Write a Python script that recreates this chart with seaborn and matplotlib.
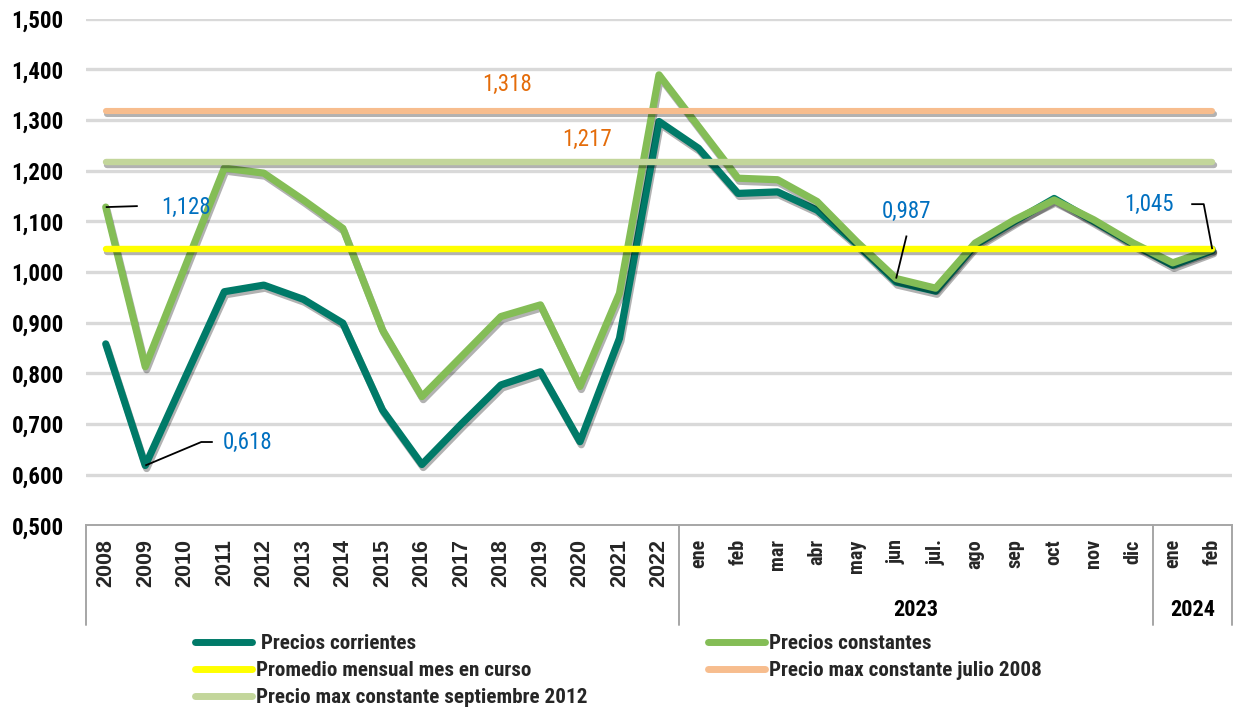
import numpy as np
import pandas as pd
import matplotlib
matplotlib.use("Agg")
import matplotlib.pyplot as plt
import matplotlib.patheffects as pe
from matplotlib import font_manager as fm
from matplotlib.lines import Line2D
import seaborn as sns

# ---------------- data ----------------
years = [str(y) for y in range(2008, 2023)]
months_2023 = ["ene", "feb", "mar", "abr", "may", "jun", "jul.", "ago", "sep", "oct", "nov", "dic"]
months_2024 = ["ene", "feb"]
group_labels = ["2023", "2024"]
tick_labels = years + months_2023 + months_2024

precios_corrientes = [0.858, 0.618, 0.790, 0.961, 0.974, 0.946, 0.899, 0.728, 0.620, 0.700,
                      0.777, 0.803, 0.665, 0.869, 1.297,
                      1.244, 1.155, 1.158, 1.122, 1.055, 0.980, 0.962, 1.053, 1.100, 1.145,
                      1.100, 1.055, 1.013, 1.042]
precios_constantes = [1.128, 0.813, 1.009, 1.205, 1.195, 1.142, 1.086, 0.886, 0.754, 0.833,
                      0.912, 0.935, 0.774, 0.958, 1.389,
                      1.287, 1.185, 1.182, 1.139, 1.060, 0.987, 0.968, 1.057, 1.103, 1.142,
                      1.103, 1.057, 1.018, 1.045]
promedio_mensual = 1.045
max_julio_2008 = 1.318
max_sept_2012 = 1.217

yticks = [0.5, 0.6, 0.7, 0.8, 0.9, 1.0, 1.1, 1.2, 1.3, 1.4, 1.5]

series_names = ["Precios corrientes", "Precios constantes", "Promedio mensual mes en curso",
                "Precio max constante julio 2008", "Precio max constante septiembre 2012"]
colors = ["#007A68", "#84BD56", "#FFFF00", "#F7BD8E", "#C3D69B"]

# ---------------- fonts ----------------
def pick(fams):
    for f in fams:
        try:
            fm.findfont(fm.FontProperties(family=f), fallback_to_default=False)
            return f
        except Exception:
            continue
    return "DejaVu Sans"

cond = pick(["Roboto Condensed", "Liberation Sans Narrow", "Roboto"])
arial = pick(["Liberation Sans", "Arial", "DejaVu Sans"])

sns.set_style("white")
plt.rcParams["font.family"] = [cond, "DejaVu Sans"]

# ---------------- figure ----------------
W, H = 1235, 708
fig = plt.figure(figsize=(W / 100, H / 100), dpi=100)
ax_left, ax_right, ax_top, ax_bot = 86, 1232, 18.6, 525.3
ax = fig.add_axes([ax_left / W, (H - ax_bot) / H, (ax_right - ax_left) / W, (ax_bot - ax_top) / H])

n = len(tick_labels)
pos = np.arange(n)

df = pd.DataFrame({
    "pos": np.concatenate([pos] * 5),
    "valor": np.concatenate([
        precios_corrientes,
        precios_constantes,
        np.full(n, promedio_mensual),
        np.full(n, max_julio_2008),
        np.full(n, max_sept_2012),
    ]),
    "serie": np.repeat(series_names, n),
})

shadow = [pe.SimpleLineShadow(offset=(1.0, -2.2), shadow_color="black", alpha=0.3), pe.Normal()]
widths = [5.2, 5.2, 4.6, 4.4, 4.6]
zorders = [3, 4, 5, 6, 7]
for name, col, lw, zo in zip(series_names, colors, widths, zorders):
    sns.lineplot(data=df[df["serie"] == name], x="pos", y="valor", color=col, lw=lw,
                 ax=ax, legend=False, sort=False, zorder=zo)
    ln = ax.lines[-1]
    ln.set_solid_capstyle("round")
    ln.set_path_effects(shadow)

# gridlines
for v in yticks[1:]:
    ax.axhline(v, color="#D9D9D9", lw=2.4, zorder=0)

ax.set_xlim(-0.5, n - 0.5)
ax.set_ylim(0.5, 1.5)
ax.set_xlabel("")
ax.set_ylabel("")

ax.set_yticks(yticks)
ax.set_yticklabels([f"{v:.3f}".replace(".", ",") for v in yticks],
                   fontsize=16.5, fontweight="bold", color="#000000")
ax.tick_params(axis="y", length=0, pad=16)

ax.set_xticks(pos)
ax.set_xticklabels(tick_labels, rotation=90, va="top", ha="center", fontweight="bold")
ax.tick_params(axis="x", length=0, pad=10)
for i, lab in enumerate(ax.get_xticklabels()):
    if i < len(years):
        lab.set_fontfamily([arial, "DejaVu Sans"])
        lab.set_fontsize(15.5)
    else:
        lab.set_fontfamily([cond, "DejaVu Sans"])
        lab.set_fontsize(14.5)

for s in ["left", "right", "top"]:
    ax.spines[s].set_visible(False)
ax.spines["bottom"].set_color("#A6A6A6")
ax.spines["bottom"].set_linewidth(1.4)

# category table separators
tr = ax.get_xaxis_transform()
sep_depth = -(625 - ax_bot) / (ax_bot - ax_top)
for xs in [-0.5, len(years) - 0.5, len(years) + len(months_2023) - 0.5, n - 0.5]:
    ax.plot([xs, xs], [0, sep_depth], transform=tr, color="#A6A6A6", lw=1.4, clip_on=False)

grp_y = -(610 - ax_bot) / (ax_bot - ax_top)
g23 = len(years) + (len(months_2023) - 1) / 2
g24 = len(years) + len(months_2023) + (len(months_2024) - 1) / 2
for gx, gl in zip([g23, g24], group_labels):
    ax.text(gx, grp_y, gl, transform=tr, ha="center", va="center",
            fontsize=16, fontweight="bold", color="black")

# ---------------- annotations ----------------
blue = "#0070C0"
orange = "#E46C0A"
ann_fs = 16.5


def polyline(ix, val, offsets):
    # leader polyline defined by pixel offsets from a data point
    base = ax.transData.transform((ix, val))
    pts = [base + np.array(o) for o in [(0, 0)] + offsets]
    dpts = ax.transData.inverted().transform(np.array(pts))
    ax.plot(dpts[:, 0], dpts[:, 1], color="black", lw=1.3, zorder=9, clip_on=False,
            solid_capstyle="butt")


def label(ix, val, txt, off, col):
    ax.annotate(txt, xy=(ix, val), xytext=off, textcoords="offset pixels",
                ha="center", va="center", fontsize=ann_fs, color=col, zorder=10)


i08 = years.index("2008")
i09 = years.index("2009")
i_jun = len(years) + months_2023.index("jun")
i_feb24 = n - 1

polyline(i08, precios_constantes[i08], [(32, 1)])
label(i08, precios_constantes[i08], "1,128", (80, 0), blue)

polyline(i09, precios_corrientes[i09], [(56, 23.5), (67.5, 23.5)])
label(i09, precios_corrientes[i09], "0,618", (102, 23.5), blue)

polyline(i_jun, precios_constantes[i_jun], [(10.5, 43)])
label(i_jun, precios_constantes[i_jun], "0,987", (10, 67), blue)

polyline(i_feb24, precios_constantes[i_feb24], [(-8.5, 45), (-21, 45)])
label(i_feb24, precios_constantes[i_feb24], "1,045", (-63.5, 44.5), blue)

label(10.15, max_julio_2008, f"{max_julio_2008:.3f}".replace(".", ","), (0, 26.5), orange)
label(12.19, max_sept_2012, f"{max_sept_2012:.3f}".replace(".", ","), (0, 22.7), orange)

# ---------------- legend ----------------
def handle(c):
    return Line2D([0], [0], color=c, lw=5.0, solid_capstyle="round")


leg_kw = dict(frameon=False, handlelength=2.7, handletextpad=0.2,
              labelspacing=0.38, borderpad=0, borderaxespad=0, loc="upper left",
              prop={"family": [cond, "DejaVu Sans"], "weight": "bold", "size": 15.2})
fig.legend([handle(colors[0]), handle(colors[2]), handle(colors[4])],
           [" " + series_names[0], series_names[2], series_names[4]],
           bbox_to_anchor=(195 / W, 1 - 634 / H), **leg_kw)
fig.legend([handle(colors[1]), handle(colors[3])],
           [series_names[1], series_names[3]],
           bbox_to_anchor=(708 / W, 1 - 634 / H), **leg_kw)

fig.savefig("out.png", dpi=100)
